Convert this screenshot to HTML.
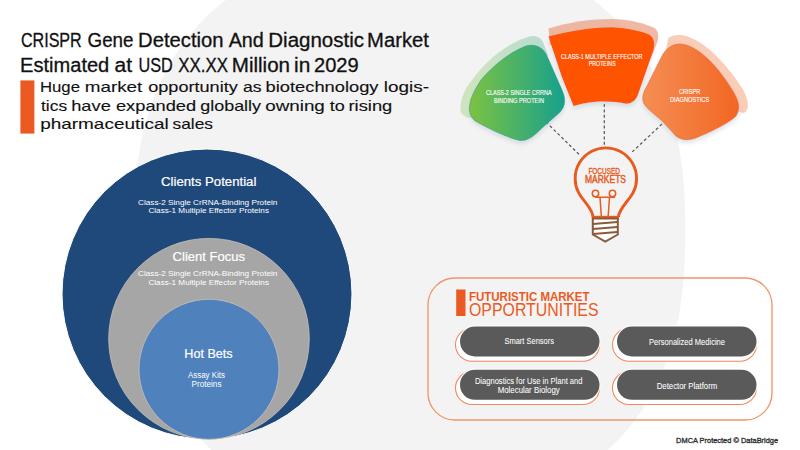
<!DOCTYPE html>
<html><head><meta charset="utf-8"><style>
html,body{margin:0;padding:0;background:#fff;width:800px;height:450px;overflow:hidden}
svg{display:block}
text{font-family:"Liberation Sans",sans-serif}
</style></head><body>
<svg width="800" height="450" viewBox="0 0 800 450">
<defs>
<linearGradient id="gg" gradientUnits="userSpaceOnUse" x1="470" y1="0" x2="566" y2="0">
  <stop offset="0" stop-color="#7cc242"/><stop offset="1" stop-color="#15a08e"/>
</linearGradient>
<linearGradient id="og" gradientUnits="userSpaceOnUse" x1="642" y1="0" x2="741" y2="0">
  <stop offset="0" stop-color="#f58e54"/><stop offset="1" stop-color="#f26522"/>
</linearGradient>
<filter id="ds" x="-20%" y="-20%" width="140%" height="150%">
  <feGaussianBlur in="SourceAlpha" stdDeviation="2"/>
  <feOffset dx="0" dy="2.5"/>
  <feColorMatrix type="matrix" values="0 0 0 0 0.42  0 0 0 0 0.5  0 0 0 0 0.58  0 0 0 0.42 0"/>
  <feMerge><feMergeNode/><feMergeNode in="SourceGraphic"/></feMerge>
</filter>
</defs>
<rect width="800" height="450" fill="#fff"/>
<path d="M685.2,231.1 L685.2,244.7 L684.9,255.4 L684.5,265.1 L684.0,274.2 L683.3,282.9 L682.4,291.3 L681.4,299.5 L680.2,307.4 L678.9,315.1 L677.4,322.6 L675.8,329.9 L674.0,337.1 L672.1,344.1 L670.0,351.0 L667.7,357.7 L665.3,364.3 L662.8,370.7 L660.1,377.0 L657.2,383.1 L654.2,389.2 L651.1,395.0 L647.8,400.8 L644.4,406.4 L640.8,411.9 L637.1,417.2 L633.2,422.4 L629.2,427.5 L625.0,432.4 L620.8,437.2 L616.3,441.8 L611.8,446.3 L607.1,450.7 L602.2,454.9 L597.3,459.0 L592.2,463.0 L586.9,466.7 L581.6,470.4 L576.1,473.9 L570.4,477.2 L564.7,480.5 L558.7,483.5 L552.7,486.4 L546.5,489.2 L540.2,491.8 L533.8,494.2 L527.2,496.5 L520.5,498.6 L513.6,500.6 L506.6,502.4 L499.4,504.1 L492.0,505.6 L484.4,507.0 L476.7,508.2 L468.7,509.2 L460.4,510.1 L451.9,510.8 L442.9,511.4 L433.4,511.8 L423.0,512.0 L409.6,512.1 L396.1,512.0 L385.7,511.8 L376.2,511.4 L367.2,510.8 L358.7,510.1 L350.4,509.2 L342.4,508.2 L334.7,507.0 L327.1,505.6 L319.8,504.1 L312.6,502.4 L305.5,500.6 L298.7,498.6 L291.9,496.5 L285.3,494.2 L278.9,491.8 L272.6,489.2 L266.4,486.4 L260.4,483.5 L254.5,480.5 L248.7,477.2 L243.1,473.9 L237.6,470.4 L232.2,466.7 L227.0,463.0 L221.8,459.0 L216.9,454.9 L212.0,450.7 L207.3,446.3 L202.8,441.8 L198.4,437.2 L194.1,432.4 L189.9,427.5 L185.9,422.4 L182.1,417.2 L178.3,411.9 L174.8,406.4 L171.3,400.8 L168.0,395.0 L164.9,389.2 L161.9,383.1 L159.1,377.0 L156.4,370.7 L153.8,364.3 L151.4,357.7 L149.2,351.0 L147.1,344.1 L145.1,337.1 L143.3,329.9 L141.7,322.6 L140.2,315.1 L138.9,307.4 L137.7,299.5 L136.7,291.3 L135.8,282.9 L135.1,274.2 L134.6,265.1 L134.2,255.4 L134.0,244.7 L133.9,231.1 L134.0,217.4 L134.2,206.8 L134.6,197.1 L135.1,187.9 L135.8,179.2 L136.7,170.8 L137.7,162.7 L138.9,154.8 L140.2,147.1 L141.7,139.5 L143.3,132.2 L145.1,125.0 L147.1,118.0 L149.2,111.2 L151.4,104.4 L153.8,97.9 L156.4,91.4 L159.1,85.2 L161.9,79.0 L164.9,73.0 L168.0,67.1 L171.3,61.4 L174.8,55.7 L178.3,50.3 L182.1,44.9 L185.9,39.7 L189.9,34.7 L194.1,29.7 L198.4,25.0 L202.8,20.3 L207.3,15.8 L212.0,11.4 L216.9,7.2 L221.8,3.1 L227.0,-0.8 L232.2,-4.6 L237.6,-8.3 L243.1,-11.8 L248.7,-15.1 L254.5,-18.3 L260.4,-21.4 L266.4,-24.3 L272.6,-27.0 L278.9,-29.6 L285.3,-32.1 L291.9,-34.4 L298.7,-36.5 L305.5,-38.5 L312.6,-40.3 L319.8,-42.0 L327.1,-43.5 L334.7,-44.8 L342.4,-46.0 L350.4,-47.1 L358.7,-47.9 L367.2,-48.7 L376.2,-49.2 L385.7,-49.6 L396.1,-49.9 L409.6,-49.9 L423.0,-49.9 L433.4,-49.6 L442.9,-49.2 L451.9,-48.7 L460.4,-47.9 L468.7,-47.1 L476.7,-46.0 L484.4,-44.8 L492.0,-43.5 L499.4,-42.0 L506.6,-40.3 L513.6,-38.5 L520.5,-36.5 L527.2,-34.4 L533.8,-32.1 L540.2,-29.6 L546.5,-27.0 L552.7,-24.3 L558.7,-21.4 L564.7,-18.3 L570.4,-15.1 L576.1,-11.8 L581.6,-8.3 L586.9,-4.6 L592.2,-0.8 L597.3,3.1 L602.2,7.2 L607.1,11.4 L611.8,15.8 L616.3,20.3 L620.8,25.0 L625.0,29.7 L629.2,34.7 L633.2,39.7 L637.1,44.9 L640.8,50.3 L644.4,55.7 L647.8,61.4 L651.1,67.1 L654.2,73.0 L657.2,79.0 L660.1,85.2 L662.8,91.4 L665.3,97.9 L667.7,104.4 L670.0,111.2 L672.1,118.0 L674.0,125.0 L675.8,132.2 L677.4,139.5 L678.9,147.1 L680.2,154.8 L681.4,162.7 L682.4,170.8 L683.3,179.2 L684.0,187.9 L684.5,197.1 L684.9,206.8 L685.2,217.4 Z" fill="#f3f3f3"/>
<text x="20.93" y="47.3" font-size="20" fill="#111" textLength="60.81" lengthAdjust="spacingAndGlyphs" stroke="#111" stroke-width="0.3">CRISPR</text><text x="87.55" y="47.3" font-size="20" fill="#111" textLength="45.98" lengthAdjust="spacingAndGlyphs" stroke="#111" stroke-width="0.3">Gene</text><text x="138.09" y="47.3" font-size="20" fill="#111" textLength="85.47" lengthAdjust="spacingAndGlyphs" stroke="#111" stroke-width="0.3">Detection</text><text x="228.71" y="47.3" font-size="20" fill="#111" textLength="35.06" lengthAdjust="spacingAndGlyphs" stroke="#111" stroke-width="0.3">And</text><text x="268.32" y="47.3" font-size="20" fill="#111" textLength="95.72" lengthAdjust="spacingAndGlyphs" stroke="#111" stroke-width="0.3">Diagnostic</text><text x="367.09" y="47.3" font-size="20" fill="#111" textLength="61.81" lengthAdjust="spacingAndGlyphs" stroke="#111" stroke-width="0.3">Market</text>
<text x="20.10" y="72.3" font-size="20" fill="#111" textLength="89.19" lengthAdjust="spacingAndGlyphs" stroke="#111" stroke-width="0.3">Estimated</text><text x="114.61" y="72.3" font-size="20" fill="#111" textLength="17.55" lengthAdjust="spacingAndGlyphs" stroke="#111" stroke-width="0.3">at</text><text x="138.50" y="72.3" font-size="20" fill="#111" textLength="34.28" lengthAdjust="spacingAndGlyphs" stroke="#111" stroke-width="0.3">USD</text><text x="178.37" y="72.3" font-size="20" fill="#111" textLength="49.48" lengthAdjust="spacingAndGlyphs" stroke="#111" stroke-width="0.3">XX.XX</text><text x="231.81" y="72.3" font-size="20" fill="#111" textLength="58.27" lengthAdjust="spacingAndGlyphs" stroke="#111" stroke-width="0.3">Million</text><text x="294.10" y="72.3" font-size="20" fill="#111" textLength="16.25" lengthAdjust="spacingAndGlyphs" stroke="#111" stroke-width="0.3">in</text><text x="313.99" y="72.3" font-size="20" fill="#111" textLength="44.71" lengthAdjust="spacingAndGlyphs" stroke="#111" stroke-width="0.3">2029</text>
<rect x="20.4" y="80.4" width="14" height="53.2" fill="#ec5a24"/>
<text x="39.93" y="91.9" font-size="14.6" fill="#111" textLength="40.02" lengthAdjust="spacingAndGlyphs" stroke="#111" stroke-width="0.12">Huge</text><text x="84.75" y="91.9" font-size="14.6" fill="#111" textLength="57.59" lengthAdjust="spacingAndGlyphs" stroke="#111" stroke-width="0.12">market</text><text x="148.24" y="91.9" font-size="14.6" fill="#111" textLength="89.55" lengthAdjust="spacingAndGlyphs" stroke="#111" stroke-width="0.12">opportunity</text><text x="243.00" y="91.9" font-size="14.6" fill="#111" textLength="18.64" lengthAdjust="spacingAndGlyphs" stroke="#111" stroke-width="0.12">as</text><text x="265.57" y="91.9" font-size="14.6" fill="#111" textLength="112.97" lengthAdjust="spacingAndGlyphs" stroke="#111" stroke-width="0.12">biotechnology</text><text x="383.73" y="91.9" font-size="14.6" fill="#111" textLength="45.22" lengthAdjust="spacingAndGlyphs" stroke="#111" stroke-width="0.12">logis-</text>
<text x="41.04" y="110.7" font-size="14.6" fill="#111" textLength="26.09" lengthAdjust="spacingAndGlyphs" stroke="#111" stroke-width="0.12">tics</text><text x="71.23" y="110.7" font-size="14.6" fill="#111" textLength="39.58" lengthAdjust="spacingAndGlyphs" stroke="#111" stroke-width="0.12">have</text><text x="115.97" y="110.7" font-size="14.6" fill="#111" textLength="80.20" lengthAdjust="spacingAndGlyphs" stroke="#111" stroke-width="0.12">expanded</text><text x="200.25" y="110.7" font-size="14.6" fill="#111" textLength="60.79" lengthAdjust="spacingAndGlyphs" stroke="#111" stroke-width="0.12">globally</text><text x="265.21" y="110.7" font-size="14.6" fill="#111" textLength="59.60" lengthAdjust="spacingAndGlyphs" stroke="#111" stroke-width="0.12">owning</text><text x="329.73" y="110.7" font-size="14.6" fill="#111" textLength="15.03" lengthAdjust="spacingAndGlyphs" stroke="#111" stroke-width="0.12">to</text><text x="348.48" y="110.7" font-size="14.6" fill="#111" textLength="43.80" lengthAdjust="spacingAndGlyphs" stroke="#111" stroke-width="0.12">rising</text>
<text x="40.18" y="129.2" font-size="14.6" fill="#111" textLength="128.49" lengthAdjust="spacingAndGlyphs" stroke="#111" stroke-width="0.12">pharmaceutical</text><text x="172.52" y="129.2" font-size="14.6" fill="#111" textLength="40.51" lengthAdjust="spacingAndGlyphs" stroke="#111" stroke-width="0.12">sales</text>
<circle cx="207" cy="294" r="145" fill="#1f497b" stroke="#fff" stroke-width="1"/>
<circle cx="209" cy="338.7" r="100.3" fill="#a6a6a6" stroke="#c9bfb5" stroke-width="0.8"/>
<circle cx="209" cy="369.3" r="70" fill="#4f81bd" stroke="#c9bfb5" stroke-width="0.8"/>
<text x="208.7" y="186" font-size="12.5" fill="#ffffff" font-weight="normal" text-anchor="middle" textLength="95.4" lengthAdjust="spacingAndGlyphs" stroke="#fff" stroke-width="0.2">Clients Potential</text>
<text x="207.7" y="204.6" font-size="8" fill="#ffffff" font-weight="normal" text-anchor="middle" textLength="139.4" lengthAdjust="spacingAndGlyphs" >Class-2 Single CrRNA-Binding Protein</text>
<text x="208.7" y="213.4" font-size="8" fill="#ffffff" font-weight="normal" text-anchor="middle" textLength="120.6" lengthAdjust="spacingAndGlyphs" >Class-1 Multiple Effector Proteins</text>
<text x="208.8" y="260.6" font-size="12.5" fill="#ffffff" font-weight="normal" text-anchor="middle" textLength="72.4" lengthAdjust="spacingAndGlyphs" stroke="#fff" stroke-width="0.2">Client Focus</text>
<text x="207.7" y="276" font-size="8" fill="#ffffff" font-weight="normal" text-anchor="middle" textLength="139.4" lengthAdjust="spacingAndGlyphs" >Class-2 Single CrRNA-Binding Protein</text>
<text x="208.7" y="284.6" font-size="8" fill="#ffffff" font-weight="normal" text-anchor="middle" textLength="120.6" lengthAdjust="spacingAndGlyphs" >Class-1 Multiple Effector Proteins</text>
<text x="208.5" y="358.4" font-size="13" fill="#ffffff" font-weight="normal" text-anchor="middle" textLength="48.3" lengthAdjust="spacingAndGlyphs" stroke="#fff" stroke-width="0.2">Hot Bets</text>
<text x="206.5" y="377.8" font-size="8.5" fill="#ffffff" font-weight="normal" text-anchor="middle" textLength="37" lengthAdjust="spacingAndGlyphs" >Assay Kits</text>
<text x="206.5" y="386.7" font-size="8.5" fill="#ffffff" font-weight="normal" text-anchor="middle" textLength="30" lengthAdjust="spacingAndGlyphs" >Proteins</text>
<g stroke="#555" stroke-width="1.2" stroke-dasharray="3,2.4" fill="none"><line x1="546" y1="122" x2="580" y2="155.3"/><line x1="604.3" y1="104" x2="604.3" y2="147"/><line x1="662" y1="124" x2="630.7" y2="153.3"/></g>
<path d="M460.5,110 C460,100 465,88 472,80 C483,64 504,45 525,38 C533,34 540,36 543,42 L548,55 L520,100 L470,118 C464,117 461,114 460.5,110 Z" fill="url(#gg)" opacity="0.3"/>
<path d="M469.5,108 C470,97 476,88 481,80 C492,67 508,53 526,46 C535,43.5 543,47 547,56 L562,90 C566,99 566,107 558,114 L542,128 C534,136 528,141 520,140.5 C505,137 488,128 477,122 C471,118.5 469.5,114 469.5,108 Z" fill="url(#gg)" stroke="#1a9c8a" stroke-opacity="0.7" stroke-width="0.8" filter="url(#ds)"/>
<path d="M548.5,28.5 C570,22 590,19 612,19 C630,19.5 645,23.5 654,27.8 C658,30 659.5,36 657,43 L650,60 L600,60 L550,45 Z" fill="#e9a284" opacity="0.75"/>
<path d="M548.5,36.5 C570,31 590,27.5 612,27.2 C628,28 641,31 649,34.4 C654,37 655,43 653.5,50 L638.5,93 C636.5,100 632,103.5 626,103.7 C618,102 605,101 594,102 C585,103 578,104.5 573.5,106 L561.5,76 Z" fill="#fe5200" filter="url(#ds)"/>
<path d="M668,38.5 C672,35 678,34.5 684,35.5 C705,40 728,66 742,88 C746,95 749,102 747.6,108 C747,111 745,113 743,113 L700,100 L665,55 Z" fill="#f4a47e" opacity="0.55"/>
<path d="M642.8,99 C642.5,95 644,91 646.5,87 L661.7,56.7 C665,50 671,44 680,44 C700,45 722,72 734,93 C738,100 741,108 736,116 C730,122 713,131 698,137 C690,140.5 682,141 676,136 L662,120.8 L650,110.5 C645,106 643,103 642.8,99 Z" fill="url(#og)" stroke="#f26522" stroke-opacity="0.8" stroke-width="0.8" filter="url(#ds)"/>
<text x="518.8" y="94.5" font-size="6.5" fill="#ffffff" font-weight="normal" text-anchor="middle" textLength="65.5" lengthAdjust="spacingAndGlyphs" stroke="#fff" stroke-width="0.12">CLASS-2 SINGLE CRRNA</text>
<text x="519" y="102.6" font-size="6.5" fill="#ffffff" font-weight="normal" text-anchor="middle" textLength="50" lengthAdjust="spacingAndGlyphs" stroke="#fff" stroke-width="0.12">BINDING PROTEIN</text>
<text x="601.8" y="58.8" font-size="6.5" fill="#ffffff" font-weight="normal" text-anchor="middle" textLength="81.5" lengthAdjust="spacingAndGlyphs" stroke="#fff" stroke-width="0.12">CLASS-1 MULTIPLE EFFECTOR</text>
<text x="602.2" y="66.3" font-size="6.5" fill="#ffffff" font-weight="normal" text-anchor="middle" textLength="27" lengthAdjust="spacingAndGlyphs" stroke="#fff" stroke-width="0.12">PROTEINS</text>
<text x="689.6" y="93.7" font-size="6.5" fill="#ffffff" font-weight="normal" text-anchor="middle" textLength="21.2" lengthAdjust="spacingAndGlyphs" stroke="#fff" stroke-width="0.12">CRISPR</text>
<text x="689.6" y="101.7" font-size="6.5" fill="#ffffff" font-weight="normal" text-anchor="middle" textLength="39.2" lengthAdjust="spacingAndGlyphs" stroke="#fff" stroke-width="0.12">DIAGNOSTICS</text>
<path d="M593,217 C593,209 582.5,200.5 578.6,192.7 A30.7,30.7 0 1 1 633.1,192.7 C629.2,200.5 618.5,209 618.5,217" fill="none" stroke="#e85a1e" stroke-width="2.9"/>
<g fill="none" stroke="#e85a1e" stroke-width="1.5"><circle cx="595.5" cy="193.5" r="3.2"/><circle cx="612.5" cy="193.5" r="3.2"/><path d="M595,197.3 L615,197.3 M600,197.3 L601.3,216 M609.5,197.3 L608.2,216"/></g>
<rect x="591.8" y="215.8" width="27" height="3" fill="#e85a1e"/>
<path d="M592.8,218.5 L617.8,218.5 L617.8,234.5 L605.3,241.5 L592.8,234.5 Z" fill="#fff" stroke="#8b5a3a" stroke-width="2"/>
<g stroke="#8b5a3a" stroke-width="2"><line x1="593" y1="224" x2="617.5" y2="222"/><line x1="593" y1="229" x2="617.5" y2="227"/><line x1="593" y1="234" x2="617.5" y2="232"/></g>
<text x="604.2" y="174" font-size="8.2" fill="#e85a1e" font-weight="normal" text-anchor="middle" textLength="31.6" lengthAdjust="spacingAndGlyphs" stroke="#e85a1e" stroke-width="0.35">FOCUSED</text>
<text x="605.5" y="183.3" font-size="10.3" fill="#e85a1e" font-weight="normal" text-anchor="middle" textLength="41" lengthAdjust="spacingAndGlyphs" stroke="#e85a1e" stroke-width="0.45">MARKETS</text>
<rect x="428" y="278" width="344" height="142" rx="27" ry="27" fill="none" stroke="#f0956a" stroke-width="1.3"/>
<rect x="456.2" y="289.5" width="9.3" height="26.5" fill="#ec5a24"/>
<text x="469" y="300.6" font-size="12.2" fill="#ec5a24" font-weight="bold" text-anchor="start" textLength="120.5" lengthAdjust="spacingAndGlyphs" >FUTURISTIC MARKET</text>
<text x="469" y="315.6" font-size="18.4" fill="#ec5a24" font-weight="normal" text-anchor="start" textLength="129.5" lengthAdjust="spacingAndGlyphs" >OPPORTUNITIES</text>
<rect x="455.5" y="328.2" width="144.0" height="33" rx="16.5" fill="#fff" stroke="#f0895a" stroke-width="1.1"/><rect x="459" y="325.5" width="141.5" height="32" rx="16.0" fill="#fff"/><rect x="460" y="326.5" width="139.5" height="30" rx="15.0" fill="#5a5a5a"/><text x="529.2" y="344.2" font-size="8.2" fill="#ffffff" font-weight="normal" text-anchor="middle" textLength="49.5" lengthAdjust="spacingAndGlyphs" stroke="#fff" stroke-width="0.05">Smart Sensors</text>
<rect x="612.5" y="328.2" width="144.0" height="33" rx="16.5" fill="#fff" stroke="#f0895a" stroke-width="1.1"/><rect x="616" y="325.5" width="141.5" height="32" rx="16.0" fill="#fff"/><rect x="617" y="326.5" width="139.5" height="30" rx="15.0" fill="#5a5a5a"/><text x="687" y="344.7" font-size="8.2" fill="#ffffff" font-weight="normal" text-anchor="middle" textLength="76.1" lengthAdjust="spacingAndGlyphs" stroke="#fff" stroke-width="0.05">Personalized Medicine</text>
<rect x="455.5" y="371.5" width="144.0" height="33" rx="16.5" fill="#fff" stroke="#f0895a" stroke-width="1.1"/><rect x="459" y="368.8" width="141.5" height="32" rx="16.0" fill="#fff"/><rect x="460" y="369.8" width="139.5" height="30" rx="15.0" fill="#5a5a5a"/><text x="528.7" y="384" font-size="8.2" fill="#ffffff" font-weight="normal" text-anchor="middle" textLength="107.6" lengthAdjust="spacingAndGlyphs" stroke="#fff" stroke-width="0.05">Diagnostics for Use in Plant and</text><text x="528.7" y="392.5" font-size="8.2" fill="#ffffff" font-weight="normal" text-anchor="middle" textLength="62" lengthAdjust="spacingAndGlyphs" stroke="#fff" stroke-width="0.05">Molecular Biology</text>
<rect x="612.5" y="371.5" width="144.0" height="33" rx="16.5" fill="#fff" stroke="#f0895a" stroke-width="1.1"/><rect x="616" y="368.8" width="141.5" height="32" rx="16.0" fill="#fff"/><rect x="617" y="369.8" width="139.5" height="30" rx="15.0" fill="#5a5a5a"/><text x="687" y="388.8" font-size="8.2" fill="#ffffff" font-weight="normal" text-anchor="middle" textLength="60.5" lengthAdjust="spacingAndGlyphs" stroke="#fff" stroke-width="0.05">Detector Platform</text>
<text x="676.1" y="442.75" font-size="7.5" fill="#2a2a2a" font-weight="normal" text-anchor="start" textLength="102" lengthAdjust="spacingAndGlyphs" stroke="#2a2a2a" stroke-width="0.3">DMCA Protected © DataBridge</text>
</svg></body></html>
